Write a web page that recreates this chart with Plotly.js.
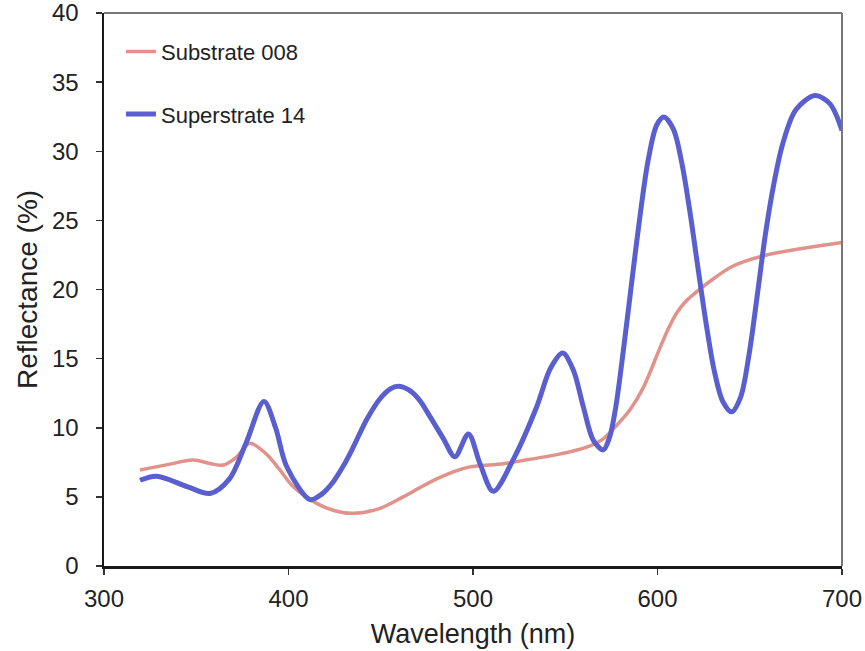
<!DOCTYPE html>
<html>
<head>
<meta charset="utf-8">
<script src="https://cdn.plot.ly/plotly-3.0.1.min.js"></script>
<style>html,body{margin:0;padding:0;background:#fff;}#chart{width:865px;height:651px;}</style>
</head>
<body>
<div id="chart"></div>
<script>
// Substrate 008 (red)
const substrateX = [319.5, 335, 348.4, 358, 364.7, 372, 379, 388, 395, 402.6, 415.3, 425, 435.1, 449.6, 462.2, 471, 480.3, 490, 498.4, 516.4, 530, 543.5, 561.6, 570.6, 578, 585.1, 592.3, 601.4, 606, 610.4, 615, 620, 628.5, 641, 659.2, 680, 700];
const substrateY = [6.94, 7.35, 7.66, 7.4, 7.3, 7.9, 8.87, 8.1, 7.0, 5.73, 4.53, 4.0, 3.81, 4.17, 5.0, 5.65, 6.3, 6.85, 7.17, 7.4, 7.7, 8.0, 8.6, 9.2, 10.2, 11.3, 12.9, 15.8, 17.2, 18.3, 19.1, 19.7, 20.6, 21.7, 22.5, 23.0, 23.4];
// Superstrate 14 (blue)
const superX = [319.5, 328.5, 345, 357.5, 368, 377, 386.7, 393, 399, 411.7, 418, 424.3, 430, 435.1, 442.4, 449.6, 455, 459.5, 465, 471, 476.7, 484, 490.2, 497.5, 503.8, 511, 521.8, 534.5, 542, 548.6, 554.4, 559.8, 565.2, 570.6, 574, 577.5, 581.5, 586.0, 590.5, 595.0, 599.6, 603.5, 608.6, 613.1, 617.6, 622, 626.4, 630.8, 635.4, 640.2, 645, 649.5, 654, 658.5, 663, 668, 675, 685.4, 693.5, 700];
const superY = [6.2, 6.5, 5.75, 5.25, 6.3, 8.9, 11.9, 10.0, 7.2, 4.8, 5.2, 6.1, 7.3, 8.6, 10.6, 12.1, 12.8, 13.0, 12.75, 12.0, 10.8, 9.2, 7.9, 9.55, 7.4, 5.4, 7.7, 11.5, 14.3, 15.4, 14.16, 11.51, 9.1, 8.4, 9.3, 11.6, 15.6, 20.5, 25.3, 29.4, 31.9, 32.47, 31.6, 29.2, 25.6, 21.5, 17.5, 14.1, 11.9, 11.15, 12.2, 15.2, 19.5, 24.0, 27.6, 30.6, 33.0, 34.03, 33.43, 31.5];
const seriesNames = ["Substrate 008", "Superstrate 14"];
const xTicks = [300, 400, 500, 600, 700];
const yTicks = [0, 5, 10, 15, 20, 25, 30, 35, 40];

const FONT = "Liberation Sans, Arial, sans-serif";
const traces = [
  {x: substrateX, y: substrateY, name: seriesNames[0], mode: "lines", legendgroup: "a",
   line: {color: "#e0928b", width: 3.5, shape: "spline", smoothing: 0.9}},
  {x: superX, y: superY, name: seriesNames[1], mode: "lines", legendgroup: "b",
   line: {color: "#5a5fcf", width: 5, shape: "spline", smoothing: 0.9}}
];
const layout = {
  width: 865, height: 651,
  margin: {l: 104, r: 23, t: 13, b: 85},
  paper_bgcolor: "#fff", plot_bgcolor: "#fff",
  font: {family: FONT, color: "#222"},
  showlegend: true,
  legend: {x: 0.023, y: 0.968, xanchor: "left", yanchor: "top", bgcolor: "rgba(0,0,0,0)",
           font: {size: 22, family: FONT, color: "#222"}, tracegroupgap: 31, itemwidth: 30},
  xaxis: {range: [300, 700], tickvals: xTicks, ticktext: xTicks.map(String),
          showgrid: false, zeroline: false, showline: true, linecolor: "#1a1a1a", linewidth: 2.5,
          ticks: "outside", ticklen: 6, tickwidth: 1.5, tickcolor: "#333",
          ticklabeloverflow: "allow", ticklabelstandoff: 4,
          tickfont: {size: 24, family: FONT, color: "#222"},
          title: {text: "Wavelength (nm)", font: {size: 27, family: FONT, color: "#222"}, standoff: 13}},
  yaxis: {range: [0, 40], tickvals: yTicks, ticktext: yTicks.map(String),
          showgrid: false, zeroline: false, showline: true, linecolor: "#1a1a1a", linewidth: 2.5,
          ticks: "outside", ticklen: 6, tickwidth: 1.5, tickcolor: "#333",
          ticklabelstandoff: 12, ticklabeloverflow: "allow",
          tickfont: {size: 24, family: FONT, color: "#222"},
          title: {text: "Reflectance (%)", font: {size: 28, family: FONT, color: "#222"}, standoff: 6}},
  shapes: [
    {type: "line", xref: "paper", yref: "paper", x0: 0, x1: 1, y0: 1, y1: 1, line: {color: "#777", width: 2}},
    {type: "line", xref: "paper", yref: "paper", x0: 1, x1: 1, y0: 0, y1: 1, line: {color: "#777", width: 2}}
  ]
};
Plotly.newPlot("chart", traces, layout, {displayModeBar: false, staticPlot: true});
</script>
</body>
</html>
